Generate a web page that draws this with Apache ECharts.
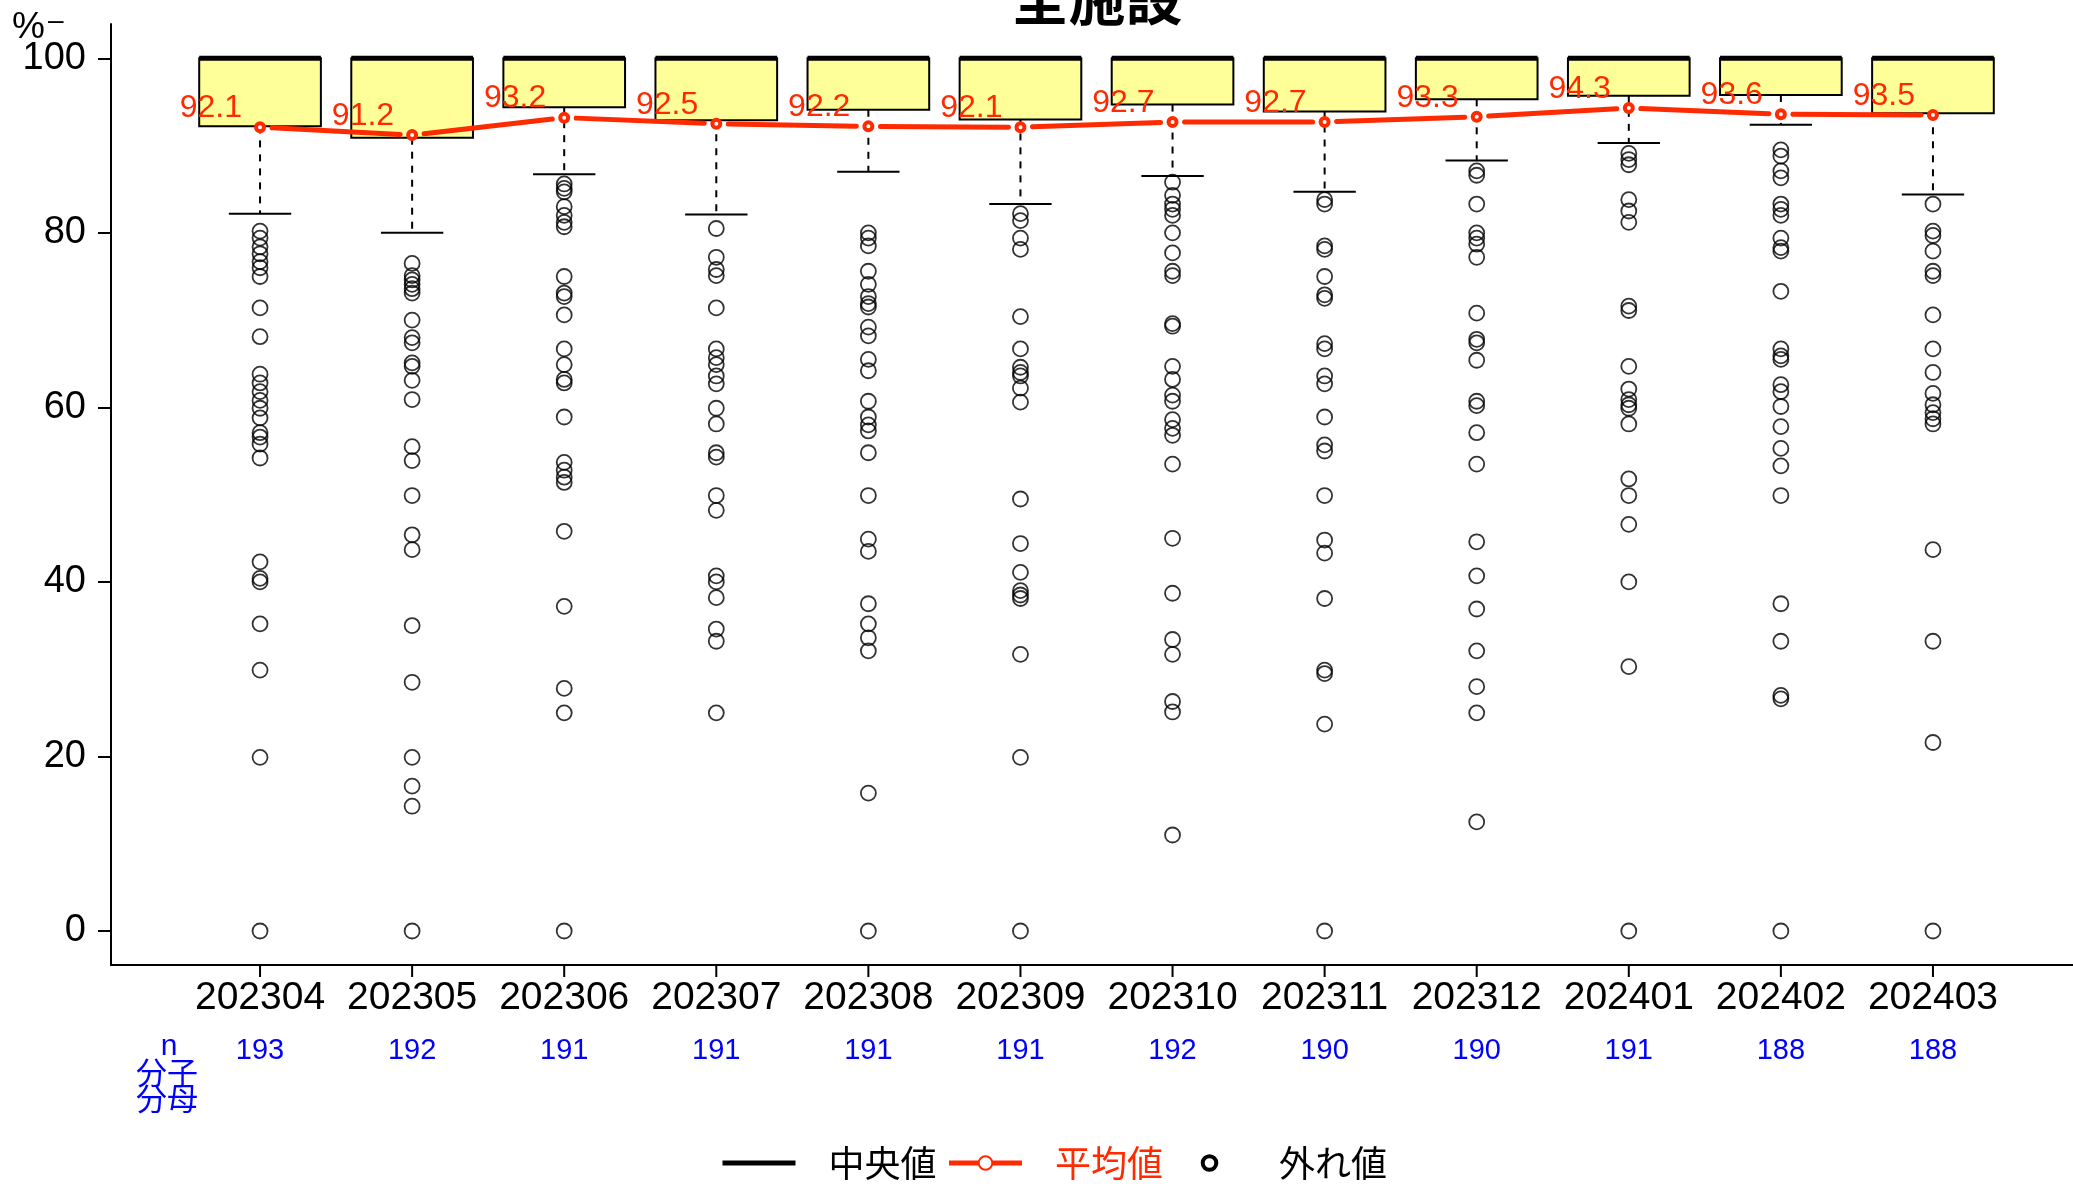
<!DOCTYPE html>
<html><head><meta charset="utf-8">
<script src="https://cdn.jsdelivr.net/npm/echarts@6/dist/echarts.min.js"></script>
<style>html,body{margin:0;padding:0;background:#fff}#c{width:2073px;height:1184px}</style>
</head><body><div id="c"></div>
<script>
const categories = ['202304','202305','202306','202307','202308','202309','202310','202311','202312','202401','202402','202403'];
const nValues = [193,192,191,191,191,191,192,190,190,191,188,188];
const meanValues = [92.1,91.2,93.2,92.5,92.2,92.1,92.7,92.7,93.3,94.3,93.6,93.5];
const q1Values = [92.2,90.9,94.4,92.9,94.1,93.0,94.7,93.9,95.3,95.7,95.8,93.7];
const medianValues = [100,100,100,100,100,100,100,100,100,100,100,100];
const q3Values = [100,100,100,100,100,100,100,100,100,100,100,100];
const upperWhiskerValues = [100,100,100,100,100,100,100,100,100,100,100,100];
const lowerWhiskerValues = [82.2,80.0,86.7,82.1,87.0,83.3,86.5,84.7,88.3,90.3,92.4,84.4];
const outliers202304 = [80.2,79.4,78.4,77.6,76.7,76.0,75.0,71.4,68.1,63.8,62.8,61.8,60.8,59.9,58.8,57.1,56.6,55.8,54.2,42.3,40.4,40.0,35.2,29.9,19.9,0];
const outliers202305 = [76.5,75.1,74.6,74.1,73.6,73.1,70.0,68.0,67.4,65.1,64.7,63.1,60.9,55.5,53.9,49.9,45.4,43.7,35.0,28.5,19.9,16.6,14.3,0];
const outliers202306 = [85.6,85.1,84.7,83.0,82.0,81.2,80.7,75.0,73.1,72.7,70.6,66.7,64.9,63.2,62.8,58.9,53.7,52.8,52.0,51.4,45.8,37.2,27.8,25.0,0];
const outliers202307 = [80.5,77.2,75.8,75.1,71.4,66.7,65.7,64.9,63.6,62.7,59.9,58.1,54.8,54.3,49.9,48.2,40.7,40.0,38.2,34.6,33.2,25.0];
const outliers202308 = [80.0,79.4,78.5,75.6,74.1,72.7,71.9,71.5,69.2,68.2,65.5,64.2,60.7,58.9,58.0,57.3,54.8,49.9,44.9,43.5,37.5,35.2,33.6,32.1,15.8,0];
const outliers202309 = [82.2,81.4,79.4,78.1,70.4,66.7,64.6,64.0,63.6,62.2,60.6,49.5,44.4,41.1,39.0,38.5,38.1,31.7,19.9,0];
const outliers202310 = [85.8,84.3,83.3,82.7,82.0,80.0,77.7,75.6,75.1,69.6,69.3,64.7,63.2,61.4,60.7,58.6,57.6,56.8,53.5,45.0,38.7,33.4,31.7,26.3,25.1,11.0];
const outliers202311 = [83.8,83.3,78.5,78.1,75.0,72.9,72.5,67.3,66.7,63.6,62.7,58.9,55.7,55.0,49.9,44.8,43.3,38.1,29.9,29.5,23.7,0];
const outliers202312 = [87.1,86.6,83.3,80.0,79.4,78.7,77.2,70.8,67.8,67.4,65.4,60.7,60.2,57.1,53.5,44.6,40.7,36.9,32.1,28.0,25.0,12.5];
const outliers202401 = [89.1,88.4,87.8,83.8,82.5,81.2,71.6,71.1,64.7,62.1,60.9,60.3,59.9,58.1,51.8,49.9,46.6,40.0,30.3,0];
const outliers202402 = [89.5,88.8,87.1,86.3,83.3,82.7,82.0,79.4,78.3,77.9,73.3,66.7,65.9,65.5,62.6,61.8,60.1,57.8,55.3,53.3,49.9,37.5,33.2,27.0,26.6,0];
const outliers202403 = [83.3,80.2,79.7,77.9,75.6,75.1,70.6,66.7,64.0,61.6,60.3,59.4,58.7,58.1,43.7,33.2,21.6,0];
const outlierLists = [outliers202304,outliers202305,outliers202306,outliers202307,outliers202308,outliers202309,outliers202310,outliers202311,outliers202312,outliers202401,outliers202402,outliers202403];
const yTickValues = [0, 20, 40, 60, 80, 100];
const yAxisMin = -5.27, yAxisMax = 100;
const xAxisLineValue = -3.9;
const titleText = '全施設';
const legendNames = ['中央値','平均値','外れ値'];

const RED = '#ff2a00';
const BLUE = '#0000ff';
const NUMF = "'Liberation Sans', Arial, sans-serif";
const CJK = "'Noto Sans CJK JP', 'Noto Sans', sans-serif";

const boxData = categories.map((c, i) => [i, q1Values[i], medianValues[i], q3Values[i], lowerWhiskerValues[i], upperWhiskerValues[i]]);
const outlierData = [];
outlierLists.forEach((list, i) => list.forEach(v => outlierData.push([i, v])));
const meanData = meanValues.map((v, i) => [i, v]);

const chart = echarts.init(document.getElementById('c'), null, {renderer: 'canvas'});
chart.setOption({
  animation: false,
  backgroundColor: '#fff',
  grid: [
    {left: 184, right: 64, top: 58.3, bottom: 207, outerBoundsMode: 'none', containLabel: false},
    {left: 111, right: 0, top: 24, bottom: 219, outerBoundsMode: 'none', containLabel: false}
  ],
  xAxis: [
    {gridIndex: 0, type: 'category', position: 'bottom', data: categories, boundaryGap: true,
     axisLine: {show: false, onZero: false},
     axisTick: {show: false},
     axisLabel: {interval: 0, margin: 21, verticalAlign: 'middle', fontSize: 39, fontFamily: NUMF, color: '#000'},
     splitLine: {show: false}},
    {gridIndex: 0, type: 'category', position: 'bottom', data: categories, boundaryGap: true,
     axisLine: {show: false, onZero: false}, axisTick: {show: false},
     axisLabel: {interval: 0, margin: 74, verticalAlign: 'middle', fontSize: 29, fontFamily: NUMF, color: BLUE,
                 formatter: (v, i) => String(nValues[i])},
     splitLine: {show: false}},
    {gridIndex: 1, type: 'value', position: 'bottom', min: 0, max: 1,
     axisLine: {show: true, onZero: false, lineStyle: {color: '#000', width: 2}},
     axisTick: {show: false}, axisLabel: {show: false}, splitLine: {show: false}}
  ],
  yAxis: [
    {gridIndex: 0, type: 'value', position: 'left', min: yAxisMin, max: yAxisMax, offset: 73,
     axisLine: {show: false, onZero: false},
     axisTick: {show: true, customValues: yTickValues, length: 13, lineStyle: {color: '#000', width: 2}},
     axisLabel: {customValues: yTickValues, margin: 25, fontSize: 38, fontFamily: NUMF, color: '#000'},
     splitLine: {show: false}},
    {gridIndex: 1, type: 'value', position: 'left', min: 0, max: 1,
     axisLine: {show: true, onZero: false, lineStyle: {color: '#000', width: 2}},
     axisTick: {show: false}, axisLabel: {show: false}, splitLine: {show: false}}
  ],
  legend: {
    selectedMode: false,
    left: 720, top: 1145, padding: 0,
    itemWidth: 73, itemHeight: 17, itemGap: 10,
    textStyle: {fontSize: 36, fontFamily: CJK, color: '#000', padding: [0, 0, 0, 28]},
    data: [
      {name: legendNames[0], itemStyle: {color: 'rgba(0,0,0,0)', borderColor: 'rgba(0,0,0,0)', borderWidth: 0}, lineStyle: {color: '#000', width: 5, opacity: 1}},
      {name: legendNames[1], textStyle: {color: RED}, lineStyle: {color: RED, width: 5, opacity: 1}},
      {name: legendNames[2], itemStyle: {color: 'rgba(0,0,0,0)', borderColor: '#000', borderWidth: 4}, lineStyle: {opacity: 0, width: 0}}
    ]
  },
  graphic: [
    {type: 'text', style: {text: titleText, x: 1097, y: -2, align: 'center', verticalAlign: 'middle', font: "bold 57px 'Noto Sans CJK JP'", fill: '#000'}},
    {type: 'text', style: {text: '%', x: 12, y: 28, align: 'left', verticalAlign: 'middle', font: "37px " + NUMF, fill: '#000'}},
    {type: 'text', style: {text: '–', x: 48, y: 21, align: 'left', verticalAlign: 'middle', font: "28px " + NUMF, fill: '#000'}},
    {type: 'text', style: {text: 'n', x: 169, y: 1047, align: 'center', verticalAlign: 'middle', font: "30px " + NUMF, fill: BLUE}},
    {type: 'text', style: {text: '分子', x: 167, y: 1072, align: 'center', verticalAlign: 'middle', font: "31px " + CJK, fill: BLUE}},
    {type: 'text', style: {text: '分母', x: 167, y: 1098, align: 'center', verticalAlign: 'middle', font: "31px " + CJK, fill: BLUE}}
  ],
  series: [
    {
      name: 'box', type: 'custom', xAxisIndex: 0, yAxisIndex: 0, z: 1,
      data: boxData, encode: {x: 0, y: [1, 2, 3, 4, 5]},
      renderItem: (params, api) => {
        const i = api.value(0);
        const band = api.size([1, 0])[0];
        const bw = band * 0.8, cw = band * 0.41;
        const pQ1 = api.coord([i, api.value(1)]);
        const pMed = api.coord([i, api.value(2)]);
        const pQ3 = api.coord([i, api.value(3)]);
        const pLo = api.coord([i, api.value(4)]);
        const pHi = api.coord([i, api.value(5)]);
        const pAxis = api.coord([i, xAxisLineValue]);
        const pTickEnd = api.coord([i, yAxisMin]);
        const x = pQ1[0];
        return {type: 'group', children: [
          {type: 'line', shape: {x1: x, y1: pAxis[1], x2: x, y2: pTickEnd[1]}, style: {stroke: '#000', lineWidth: 2}},
          {type: 'line', shape: {x1: x, y1: pQ1[1], x2: x, y2: pLo[1]}, style: {stroke: '#000', lineWidth: 2, lineDash: [7, 7]}},
          {type: 'line', shape: {x1: x - cw / 2, y1: pLo[1], x2: x + cw / 2, y2: pLo[1]}, style: {stroke: '#000', lineWidth: 2}},
          {type: 'line', shape: {x1: x, y1: pQ3[1], x2: x, y2: pHi[1]}, style: {stroke: '#000', lineWidth: 2, lineDash: [7, 7]}},
          {type: 'rect', shape: {x: x - bw / 2, y: pQ3[1], width: bw, height: pQ1[1] - pQ3[1]}, style: {fill: '#ffff99', stroke: '#000', lineWidth: 2}},
          {type: 'line', shape: {x1: x - bw / 2, y1: pMed[1], x2: x + bw / 2, y2: pMed[1]}, style: {stroke: '#000', lineWidth: 5}}
        ]};
      }
    },
    {
      name: 'outliers', type: 'scatter', xAxisIndex: 0, yAxisIndex: 0, z: 2,
      data: outlierData, symbol: 'circle', symbolSize: 15,
      itemStyle: {color: 'rgba(0,0,0,0)', borderColor: '#000', borderWidth: 1.8}
    },
    {
      name: 'meanSegments', type: 'custom', xAxisIndex: 0, yAxisIndex: 0, z: 3,
      data: meanData, encode: {x: 0, y: 1},
      renderItem: (params, api) => {
        const i = api.value(0);
        if (i >= meanValues.length - 1) return null;
        const p0 = api.coord([i, api.value(1)]);
        const p1 = api.coord([i + 1, meanValues[i + 1]]);
        const dx = p1[0] - p0[0], dy = p1[1] - p0[1];
        const len = Math.sqrt(dx * dx + dy * dy);
        const g = 12;
        const ux = dx / len, uy = dy / len;
        return {type: 'line', shape: {x1: p0[0] + ux * g, y1: p0[1] + uy * g, x2: p1[0] - ux * g, y2: p1[1] - uy * g},
                style: {stroke: RED, lineWidth: 5, lineCap: 'round'}};
      }
    },
    {
      name: legendNames[1], type: 'line', xAxisIndex: 0, yAxisIndex: 0, z: 4,
      data: meanValues, symbol: 'circle', symbolSize: 8, showAllSymbol: true,
      lineStyle: {color: RED, width: 5, opacity: 0},
      itemStyle: {color: '#fff', borderColor: RED, borderWidth: 4},
      label: {show: true, position: 'left', distance: 12, offset: [0, -19], color: RED, fontSize: 32,
              fontFamily: NUMF, formatter: p => Number(p.value).toFixed(1)}
    },
    {
      name: legendNames[0], type: 'line', xAxisIndex: 0, yAxisIndex: 0, data: [],
      symbol: 'none', lineStyle: {color: '#000', width: 5}, itemStyle: {color: '#000'}
    },
    {
      name: legendNames[2], type: 'line', xAxisIndex: 0, yAxisIndex: 0, data: [],
      symbol: 'circle', lineStyle: {opacity: 0, width: 0}, itemStyle: {color: 'rgba(0,0,0,0)', borderColor: '#000', borderWidth: 4}
    }
  ]
});
</script></body></html>
